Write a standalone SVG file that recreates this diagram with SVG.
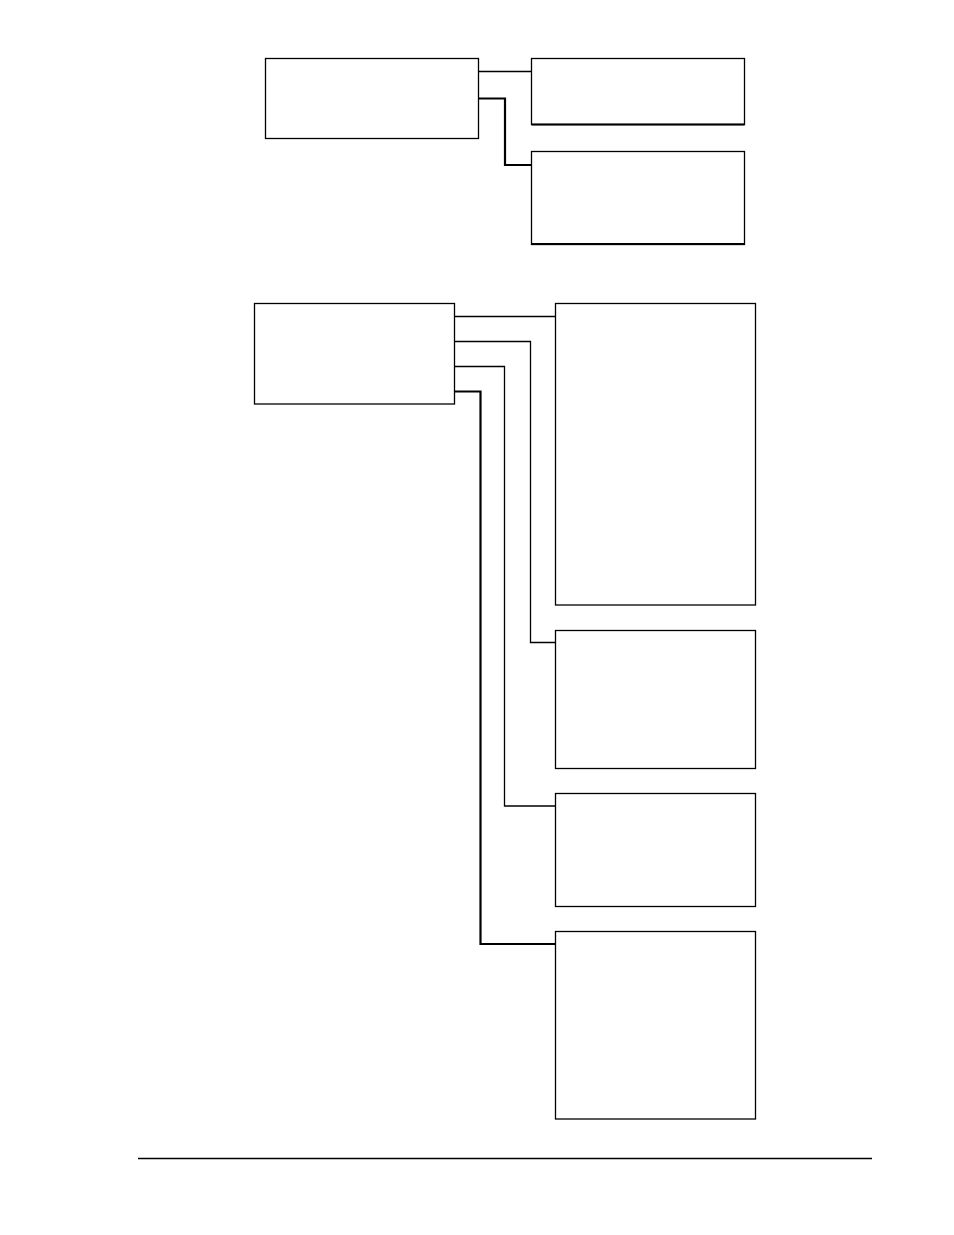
<svg xmlns="http://www.w3.org/2000/svg" width="954" height="1235" viewBox="0 0 954 1235">
<style>
.box{fill:#fff;stroke:#000;stroke-width:1.3}
.thickb{fill:none;stroke:#000;stroke-width:2.2}
.c{fill:none;stroke:#000;stroke-width:1.3}
.ct{fill:none;stroke:#000;stroke-width:2.2}
</style>
<rect width="954" height="1235" fill="#fff"/>
<g id="connectors">
<path class="c" d="M479 71.5 H532"/>
<path class="ct" d="M479 98.5 H505 V165 H532"/>
<path class="c" d="M454.5 316.5 H556"/>
<path class="c" d="M454.5 341.5 H530.5 V642.5 H556"/>
<path class="c" d="M454.5 366.5 H504.5 V806 H556"/>
<path class="ct" d="M454.5 391.5 H480.5 V944 H556"/>
</g>
<g id="nodeA"><rect class="box" x="265.5" y="58.5" width="213" height="80"/></g>
<g id="nodeB"><rect class="box" x="531.5" y="58.5" width="213" height="66"/><path class="thickb" d="M531.5 124.5 H744.5"/></g>
<g id="nodeC"><rect class="box" x="531.5" y="151.5" width="213" height="93"/><path class="thickb" d="M531.5 244 H744.5"/></g>
<g id="nodeD"><rect class="box" x="254.5" y="303.5" width="200" height="100.5"/></g>
<g id="nodeE"><rect class="box" x="555.5" y="303.5" width="200" height="301.5"/></g>
<g id="nodeF"><rect class="box" x="555.5" y="630.5" width="200" height="138"/></g>
<g id="nodeG"><rect class="box" x="555.5" y="793.5" width="200" height="113"/></g>
<g id="nodeH"><rect class="box" x="555.5" y="931.5" width="200" height="187.5"/></g>
<g id="rule"><path d="M138 1158.5 H872" stroke="#000" stroke-width="1.5"/></g>
</svg>
